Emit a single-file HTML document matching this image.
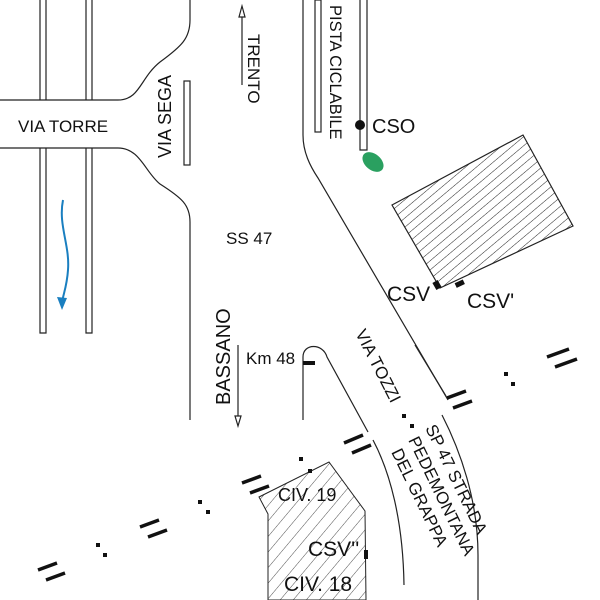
<!DOCTYPE html>
<html><head><style>body{margin:0;background:#fff}svg{display:block}text{font-family:"Liberation Sans",sans-serif;fill:#111}</style></head>
<body>
<svg width="600" height="600" viewBox="0 0 600 600" xmlns="http://www.w3.org/2000/svg">
<defs>
<pattern id="h1" width="7" height="7" patternUnits="userSpaceOnUse" patternTransform="rotate(-40)">
<line x1="0" y1="0" x2="7" y2="0" stroke="#222" stroke-width="1"/></pattern>
<pattern id="h2" width="10" height="10" patternUnits="userSpaceOnUse" patternTransform="rotate(-50)">
<line x1="0" y1="0" x2="10" y2="0" stroke="#222" stroke-width="0.8"/></pattern>
</defs>
<g fill="none" stroke="#222" stroke-width="1.2">
<path d="M40,0V100M46,0V100M86,0V100M92,0V100"/>
<path d="M40,148V333H46V148M86,148V333H92V148"/>
<path d="M0,100H118C140,100 140,78 160,62C182,46 190,38 190,20V0"/>
<path d="M0,148H118C140,148 145,172 160,184C182,198 190,205 190,222V420"/>
<rect x="184" y="81" width="6" height="84"/>
<path d="M242,85V14"/><path d="M239,17L242,6L245,17Z" fill="#fff"/>
<path d="M238,345V418"/><path d="M235,416L238,426L241,416Z" fill="#fff"/>
<path d="M303,0V135C303,152 310,166 318,178L448,400"/>
<path d="M442,415C460,450 478,500 478,555V600"/>
<path d="M415,345L446,396"/>
<path d="M303,420V357C303,343 323,343 327,357L368,432"/>
<path d="M373,440C390,472 403,520 404,585"/>
<rect x="315" y="0" width="6" height="132"/>
<path d="M360,0V150H367V0"/>
<polygon points="392,205 523,135 573,226 440,288" fill="url(#h1)"/>
<polygon points="259,497 329,462 365,511 366,600 268,600 268,514" fill="url(#h2)" stroke-width="1"/>
</g>
<path d="M63,200C58,225 70,245 68,270C67,285 64,292 62,302" fill="none" stroke="#1a7fc0" stroke-width="2"/>
<path d="M57,297L62,310L67,298Z" fill="#1a7fc0"/>
<circle cx="360" cy="125" r="5" fill="#111"/>
<ellipse cx="373" cy="162" rx="8" ry="12" transform="rotate(-50 373 162)" fill="#2aa060"/>
<g fill="#111">
<rect x="434" y="281" width="6" height="8" transform="rotate(-30 437 285)"/>
<rect x="455" y="281" width="9" height="5" transform="rotate(-25 460 283)"/>
<rect x="303" y="361" width="12" height="4"/>
<rect x="364" y="550" width="4" height="9"/>
</g>
<g stroke="#111" stroke-width="3.5" stroke-linecap="butt">
<path d="M547,357L569,349M555,367L577,359"/>
<path d="M447,398L466,391M453,408L472,401"/>
<path d="M344,443L363,435M352,453L371,445"/>
<path d="M242,483L261,476M250,493L269,486"/>
<path d="M140,527L159,520M148,537L167,530"/>
<path d="M38,570L57,563M46,580L65,573"/>
</g>
<g fill="#111">
<rect x="504" y="372" width="4" height="4"/><rect x="511" y="382" width="4" height="4"/>
<rect x="402" y="414" width="4" height="4"/><rect x="410" y="424" width="4" height="4"/>
<rect x="299" y="457" width="4" height="4"/><rect x="308" y="469" width="4" height="4"/>
<rect x="198" y="500" width="4" height="4"/><rect x="206" y="510" width="4" height="4"/>
<rect x="96" y="543" width="4" height="4"/><rect x="103" y="553" width="4" height="4"/>
</g>
<text x="18" y="132" font-size="17">VIA TORRE</text>
<text transform="translate(171,158) rotate(-90)" font-size="18">VIA SEGA</text>
<text transform="translate(248,34) rotate(90)" font-size="17">TRENTO</text>
<text x="226" y="244" font-size="17">SS 47</text>
<text transform="translate(230,405) rotate(-90)" font-size="20">BASSANO</text>
<text x="246" y="364" font-size="17">Km 48</text>
<text transform="translate(330,5) rotate(90)" font-size="16.5">PISTA CICLABILE</text>
<text x="372" y="133" font-size="20">CSO</text>
<text x="387" y="301" font-size="21">CSV</text>
<text x="467" y="308" font-size="21">CSV'</text>
<text transform="translate(355,333) rotate(63)" font-size="17">VIA TOZZI</text>
<text transform="translate(425,428) rotate(64)" font-size="17">SP 47 STRADA</text>
<text transform="translate(408,440) rotate(64)" font-size="17">PEDEMONTANA</text>
<text transform="translate(391,452) rotate(64)" font-size="17">DEL GRAPPA</text>
<text x="278" y="501" font-size="18">CIV. 19</text>
<text x="308" y="556" font-size="21">CSV''</text>
<text x="284" y="591" font-size="21">CIV. 18</text>
</svg>
</body></html>
